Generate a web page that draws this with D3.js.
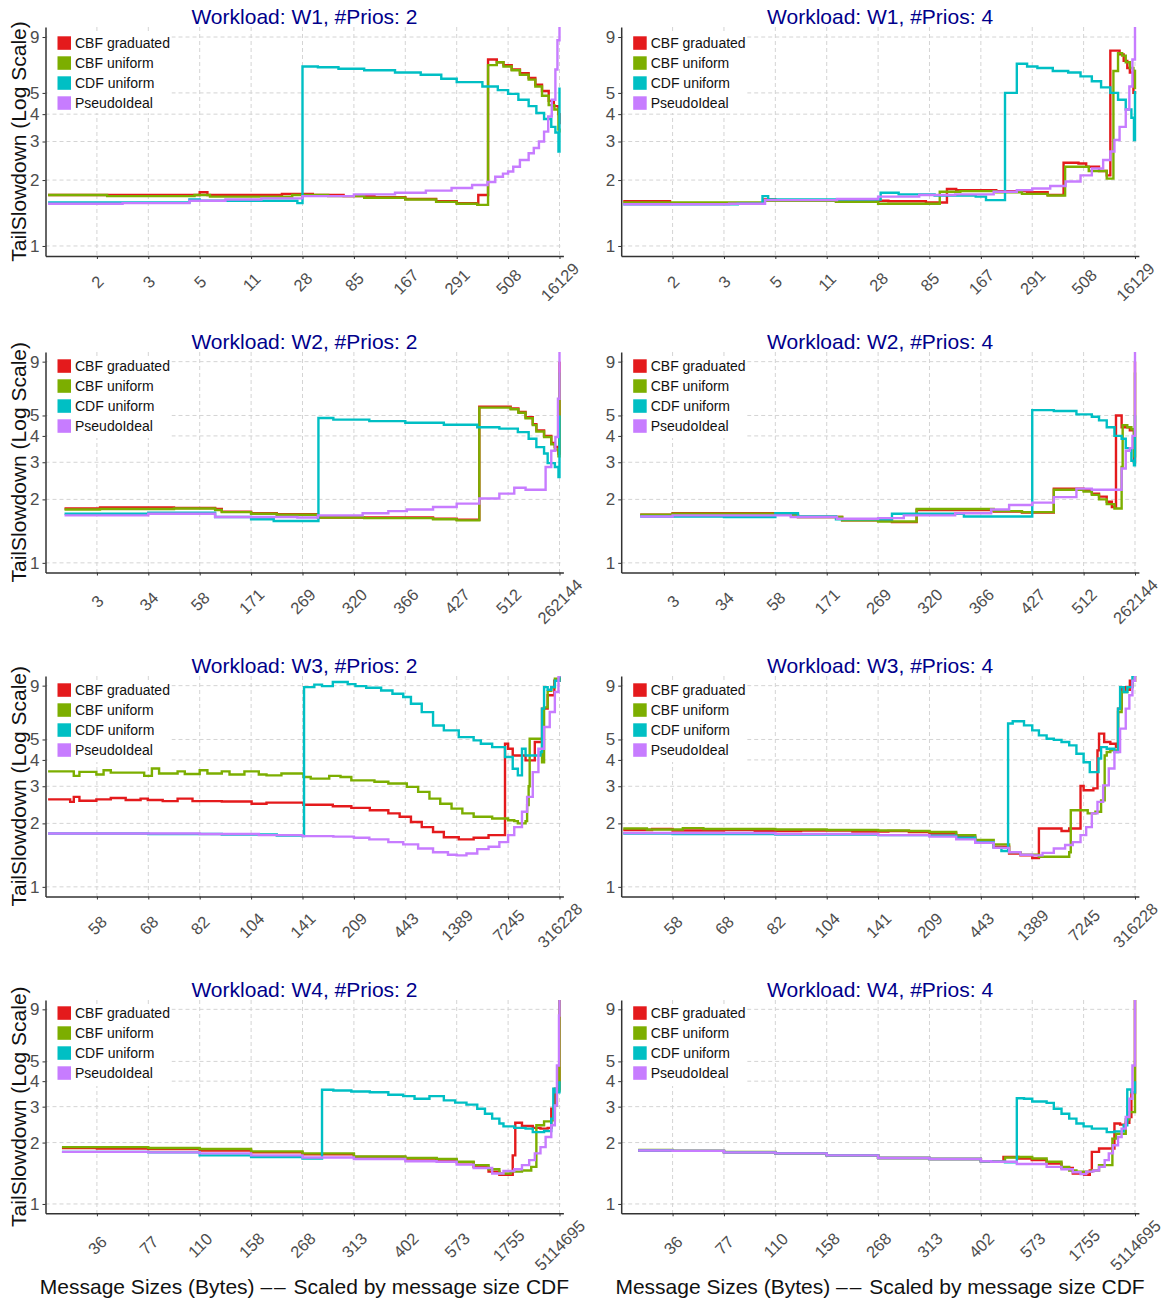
<!DOCTYPE html>
<html lang="en">
<head>
<meta charset="utf-8">
<title>TailSlowdown by message size</title>
<script src="https://d3js.org/d3.v7.min.js"></script>
<style>
  body { margin: 0; background: #fff; }
  svg { display: block; font-family: "Liberation Sans", Arial, sans-serif; }
</style>
</head>
<body>
<svg width="1170" height="1300"></svg>
<script>
// ---- data (x = message size CDF percentile, y = tail slowdown) ----
const seriesNames = ["CBF graduated", "CBF uniform", "CDF uniform", "PseudoIdeal"];
const seriesColors = ["#E41A1C", "#7CAE00", "#00BFC4", "#C77CFF"];

const cdfTicks = [0.1, 0.2, 0.3, 0.4, 0.5, 0.6, 0.7, 0.8, 0.9, 1.0];
const yTicks = [1, 2, 3, 4, 5, 9];

const sizesW1 = ["2", "3", "5", "11", "28", "85", "167", "291", "508", "16129"];
const sizesW2 = ["3", "34", "58", "171", "269", "320", "366", "427", "512", "262144"];
const sizesW3 = ["58", "68", "82", "104", "141", "209", "443", "1389", "7245", "316228"];
const sizesW4 = ["36", "77", "110", "158", "268", "313", "402", "573", "1755", "5114695"];

// W1, 2 prios
const w1p2Graduated = [[0.005,1.71],[0.30,1.76],[0.315,1.71],[0.46,1.73],[0.52,1.71],[0.58,1.69],[0.64,1.67],[0.70,1.64],[0.76,1.60],[0.80,1.57],[0.842,1.71],[0.861,7.1],[0.878,6.9],[0.891,6.7],[0.907,6.4],[0.923,6.15],[0.94,5.85],[0.953,5.45],[0.966,5.1],[0.979,4.6],[0.989,4.35],[0.998,4.0],[1.0,3.6]];
const w1p2Uniform = [[0.005,1.71],[0.12,1.69],[0.29,1.71],[0.32,1.68],[0.48,1.71],[0.55,1.69],[0.62,1.66],[0.70,1.63],[0.76,1.59],[0.80,1.56],[0.84,1.54],[0.861,6.7],[0.878,6.9],[0.891,6.6],[0.907,6.35],[0.923,6.05],[0.94,5.75],[0.953,5.35],[0.966,4.85],[0.979,4.4],[0.99,4.2],[0.998,3.4],[1.0,3.3]];
const w1p2Cdf = [[0.005,1.58],[0.28,1.63],[0.30,1.61],[0.49,1.57],[0.50,6.6],[0.53,6.55],[0.57,6.45],[0.62,6.35],[0.68,6.2],[0.73,6.05],[0.77,5.8],[0.80,5.6],[0.85,5.35],[0.88,5.15],[0.90,4.95],[0.92,4.65],[0.94,4.35],[0.955,4.05],[0.97,3.8],[0.984,3.5],[0.992,3.3],[0.998,2.7],[1.0,5.3]];
const w1p2Ideal = [[0.005,1.56],[0.15,1.57],[0.28,1.61],[0.35,1.63],[0.42,1.65],[0.50,1.69],[0.60,1.72],[0.68,1.75],[0.74,1.79],[0.79,1.84],[0.83,1.9],[0.86,1.96],[0.875,2.07],[0.89,2.14],[0.90,2.19],[0.91,2.3],[0.923,2.47],[0.94,2.65],[0.95,2.8],[0.96,3.0],[0.97,3.33],[0.978,3.9],[0.985,4.65],[0.992,6.4],[0.996,8.7],[1.0,11]];

// W1, 4 prios
const w1p4Graduated = [[0.004,1.60],[0.095,1.57],[0.278,1.63],[0.30,1.62],[0.418,1.60],[0.50,1.61],[0.52,1.60],[0.593,1.58],[0.634,1.82],[0.652,1.80],[0.73,1.78],[0.79,1.76],[0.83,1.71],[0.861,2.4],[0.89,2.38],[0.905,2.3],[0.93,2.2],[0.945,2.1],[0.952,7.8],[0.97,7.5],[0.978,7.0],[0.985,6.5],[0.99,6.2],[0.997,5.0],[1.0,5.1]];
const w1p4Uniform = [[0.004,1.58],[0.278,1.61],[0.418,1.59],[0.50,1.56],[0.62,1.77],[0.66,1.78],[0.73,1.76],[0.78,1.73],[0.83,1.70],[0.864,2.3],[0.91,2.2],[0.945,2.03],[0.958,6.3],[0.967,7.6],[0.975,7.4],[0.982,6.9],[0.99,6.5],[0.997,6.3],[1.0,5.2]];
const w1p4Cdf = [[0.004,1.55],[0.227,1.56],[0.275,1.69],[0.286,1.63],[0.50,1.63],[0.505,1.75],[0.54,1.72],[0.61,1.70],[0.69,1.68],[0.71,1.62],[0.747,5.0],[0.77,6.8],[0.79,6.6],[0.81,6.5],[0.84,6.3],[0.87,6.2],[0.894,5.95],[0.916,5.65],[0.934,5.3],[0.952,5.0],[0.967,4.65],[0.982,4.2],[0.993,3.85],[0.998,3.05],[1.0,5.1]];
const w1p4Ideal = [[0.004,1.55],[0.21,1.56],[0.28,1.62],[0.42,1.64],[0.50,1.68],[0.58,1.71],[0.65,1.72],[0.725,1.77],[0.77,1.80],[0.80,1.83],[0.835,1.88],[0.865,1.97],[0.894,2.1],[0.916,2.26],[0.938,2.47],[0.952,2.7],[0.96,3.05],[0.97,3.5],[0.982,4.2],[0.989,5.35],[0.995,7.1],[1.0,11]];

// W2, 2 prios
const w2p2Graduated = [[0.037,1.81],[0.106,1.83],[0.25,1.82],[0.33,1.80],[0.343,1.75],[0.40,1.72],[0.45,1.70],[0.53,1.64],[0.62,1.64],[0.754,1.62],[0.80,1.60],[0.844,5.5],[0.905,5.4],[0.92,5.2],[0.934,4.9],[0.948,4.55],[0.955,4.25],[0.97,4.0],[0.984,3.7],[0.991,3.55],[0.998,3.3],[1.0,9]];
const w2p2Uniform = [[0.037,1.79],[0.106,1.80],[0.25,1.81],[0.33,1.78],[0.343,1.74],[0.40,1.71],[0.45,1.69],[0.53,1.64],[0.62,1.63],[0.754,1.61],[0.80,1.59],[0.844,5.45],[0.905,5.35],[0.92,5.15],[0.934,4.85],[0.948,4.5],[0.955,4.2],[0.97,3.95],[0.984,3.65],[0.991,3.45],[0.998,3.2],[1.0,8]];
const w2p2Cdf = [[0.037,1.71],[0.20,1.73],[0.33,1.65],[0.40,1.61],[0.444,1.58],[0.531,4.86],[0.56,4.78],[0.63,4.7],[0.70,4.62],[0.775,4.52],[0.84,4.4],[0.883,4.33],[0.919,4.17],[0.94,3.88],[0.955,3.54],[0.97,3.3],[0.977,2.97],[0.991,2.85],[0.998,2.55],[1.0,5]];
const w2p2Ideal = [[0.037,1.68],[0.20,1.71],[0.33,1.65],[0.49,1.64],[0.53,1.68],[0.617,1.72],[0.667,1.76],[0.703,1.79],[0.754,1.84],[0.80,1.91],[0.844,2.02],[0.883,2.13],[0.912,2.27],[0.934,2.22],[0.973,2.85],[0.984,3.4],[0.992,3.95],[0.997,6],[1.0,11]];

// W2, 4 prios
const w2p4Graduated = [[0.037,1.69],[0.10,1.72],[0.33,1.69],[0.344,1.65],[0.43,1.59],[0.527,1.56],[0.575,1.78],[0.725,1.75],[0.78,1.73],[0.842,2.25],[0.886,2.25],[0.90,2.21],[0.916,2.13],[0.93,2.06],[0.945,1.95],[0.955,1.84],[0.963,5.0],[0.974,4.4],[0.99,4.25],[0.998,3.0],[1.0,9]];
const w2p4Uniform = [[0.037,1.69],[0.10,1.71],[0.33,1.68],[0.344,1.65],[0.43,1.59],[0.50,1.57],[0.575,1.80],[0.725,1.76],[0.78,1.74],[0.842,2.22],[0.886,2.22],[0.90,2.18],[0.916,2.1],[0.93,2.0],[0.945,1.9],[0.96,1.81],[0.974,2.85],[0.976,4.5],[0.985,4.4],[0.993,4.3],[0.998,3.2],[1.0,8]];
const w2p4Cdf = [[0.037,1.66],[0.20,1.65],[0.30,1.72],[0.344,1.66],[0.418,1.61],[0.527,1.71],[0.667,1.66],[0.80,5.3],[0.842,5.25],[0.886,5.06],[0.916,4.93],[0.93,4.74],[0.945,4.4],[0.96,4.0],[0.974,3.88],[0.982,3.5],[0.993,3.05],[0.998,2.9],[1.0,5]];
const w2p4Ideal = [[0.037,1.66],[0.10,1.68],[0.33,1.65],[0.42,1.62],[0.50,1.63],[0.55,1.68],[0.65,1.72],[0.72,1.79],[0.755,1.88],[0.80,1.93],[0.842,2.05],[0.886,2.25],[0.916,2.22],[0.974,2.8],[0.982,3.4],[0.99,3.5],[0.995,4.0],[1.0,11]];

// W3, 2 prios
const w3p2Graduated = [[0.005,2.6],[0.048,2.53],[0.055,2.67],[0.066,2.56],[0.099,2.6],[0.127,2.64],[0.156,2.58],[0.185,2.62],[0.199,2.58],[0.228,2.55],[0.257,2.62],[0.286,2.55],[0.343,2.54],[0.401,2.48],[0.43,2.51],[0.502,2.45],[0.559,2.41],[0.595,2.37],[0.631,2.31],[0.667,2.23],[0.689,2.15],[0.711,2.03],[0.732,1.92],[0.754,1.82],[0.775,1.72],[0.804,1.68],[0.833,1.71],[0.862,1.76],[0.894,4.77],[0.90,4.52],[0.909,4.2],[0.934,3.98],[0.952,4.86],[0.966,7.0],[0.977,8.1],[0.99,9.5],[1.0,11]];
const w3p2Uniform = [[0.005,3.53],[0.055,3.36],[0.066,3.51],[0.099,3.41],[0.113,3.57],[0.127,3.48],[0.192,3.36],[0.207,3.64],[0.221,3.45],[0.257,3.53],[0.271,3.43],[0.30,3.57],[0.315,3.45],[0.343,3.53],[0.358,3.41],[0.387,3.53],[0.415,3.41],[0.43,3.38],[0.459,3.45],[0.502,3.32],[0.516,3.26],[0.552,3.36],[0.574,3.32],[0.595,3.2],[0.64,3.15],[0.667,3.09],[0.703,2.98],[0.725,2.82],[0.747,2.62],[0.768,2.48],[0.79,2.35],[0.811,2.23],[0.833,2.15],[0.869,2.11],[0.90,2.07],[0.912,2.05],[0.919,2.0],[0.934,2.05],[0.937,2.44],[0.94,3.0],[0.942,5.04],[0.966,3.9],[0.97,7.1],[0.977,8.5],[0.984,8.85],[0.991,9.7],[1.0,11]];
const w3p2Cdf = [[0.005,1.79],[0.20,1.78],[0.343,1.77],[0.45,1.75],[0.50,1.74],[0.503,8.86],[0.523,9.1],[0.538,8.95],[0.559,9.36],[0.588,9.15],[0.603,8.95],[0.624,8.8],[0.653,8.54],[0.675,8.24],[0.696,7.95],[0.711,7.39],[0.732,6.74],[0.754,5.82],[0.775,5.52],[0.804,5.13],[0.833,4.95],[0.847,4.77],[0.869,4.6],[0.894,4.13],[0.909,3.63],[0.919,3.38],[0.927,4.52],[0.934,4.2],[0.963,4.36],[0.966,7.0],[0.97,8.86],[0.977,8.6],[0.984,8.86],[0.991,9.5],[1.0,11]];
const w3p2Ideal = [[0.005,1.79],[0.30,1.78],[0.415,1.76],[0.50,1.74],[0.56,1.73],[0.60,1.71],[0.63,1.68],[0.667,1.63],[0.696,1.59],[0.725,1.52],[0.754,1.46],[0.783,1.42],[0.80,1.41],[0.819,1.44],[0.84,1.51],[0.862,1.55],[0.883,1.63],[0.90,1.76],[0.912,1.92],[0.927,2.27],[0.937,2.67],[0.948,3.5],[0.959,4.52],[0.97,5.73],[0.981,6.75],[0.991,8.4],[0.998,10],[1.0,11]];

// W3, 4 prios
const w3p4Graduated = [[0.004,1.86],[0.06,1.88],[0.10,1.85],[0.20,1.86],[0.26,1.84],[0.35,1.85],[0.45,1.83],[0.52,1.84],[0.56,1.82],[0.60,1.79],[0.652,1.73],[0.689,1.63],[0.725,1.55],[0.755,1.44],[0.777,1.41],[0.80,1.37],[0.813,1.89],[0.857,1.84],[0.872,1.89],[0.894,3.01],[0.90,2.87],[0.919,2.93],[0.927,4.44],[0.93,5.33],[0.94,4.86],[0.952,4.77],[0.963,4.6],[0.967,7.0],[0.974,8.86],[0.982,8.6],[0.99,9.5],[1.0,11]];
const w3p4Uniform = [[0.004,1.89],[0.05,1.87],[0.12,1.90],[0.16,1.88],[0.30,1.87],[0.40,1.86],[0.50,1.85],[0.56,1.84],[0.60,1.82],[0.652,1.76],[0.689,1.67],[0.725,1.59],[0.755,1.46],[0.777,1.42],[0.813,1.39],[0.872,1.46],[0.875,2.31],[0.908,2.23],[0.923,2.27],[0.934,2.57],[0.941,4.2],[0.945,4.36],[0.952,4.44],[0.967,6.75],[0.974,8.4],[0.985,8.86],[0.995,9.5],[1.0,11]];
const w3p4Cdf = [[0.004,1.79],[0.10,1.78],[0.30,1.77],[0.50,1.76],[0.60,1.75],[0.652,1.71],[0.689,1.63],[0.725,1.53],[0.74,1.48],[0.753,5.95],[0.762,6.1],[0.784,5.83],[0.80,5.52],[0.813,5.23],[0.828,5.04],[0.842,4.98],[0.857,4.86],[0.872,4.69],[0.886,4.28],[0.90,3.9],[0.912,3.5],[0.929,4.06],[0.934,4.6],[0.945,4.52],[0.96,4.36],[0.967,7.0],[0.971,8.86],[0.978,8.4],[0.985,8.86],[0.995,10],[1.0,11]];
const w3p4Ideal = [[0.004,1.80],[0.30,1.78],[0.50,1.76],[0.60,1.73],[0.652,1.68],[0.689,1.62],[0.725,1.53],[0.755,1.46],[0.777,1.42],[0.80,1.41],[0.82,1.45],[0.842,1.52],[0.864,1.58],[0.879,1.63],[0.894,1.76],[0.905,1.92],[0.916,2.23],[0.927,2.53],[0.938,3.03],[0.949,3.64],[0.96,4.36],[0.971,5.63],[0.982,7.0],[0.989,8.1],[0.995,9.5],[1.0,11]];

// W4, 2 prios
const w4p2Graduated = [[0.032,1.88],[0.10,1.87],[0.20,1.86],[0.30,1.83],[0.40,1.79],[0.50,1.75],[0.60,1.70],[0.70,1.67],[0.761,1.64],[0.80,1.60],[0.833,1.52],[0.862,1.44],[0.883,1.39],[0.909,1.73],[0.914,2.5],[0.927,2.41],[0.948,2.36],[0.963,2.34],[0.977,2.36],[0.984,2.93],[0.991,3.67],[1.0,11]];
const w4p2Uniform = [[0.032,1.90],[0.20,1.88],[0.30,1.86],[0.40,1.81],[0.50,1.77],[0.60,1.71],[0.70,1.68],[0.761,1.66],[0.80,1.61],[0.833,1.55],[0.862,1.48],[0.883,1.41],[0.905,1.44],[0.927,1.46],[0.945,1.52],[0.955,2.43],[0.97,2.54],[0.984,2.57],[0.991,3.04],[0.995,3.6],[1.0,11]];
const w4p2Cdf = [[0.032,1.80],[0.20,1.79],[0.30,1.73],[0.40,1.70],[0.50,1.67],[0.538,3.63],[0.56,3.6],[0.595,3.56],[0.631,3.53],[0.667,3.43],[0.696,3.38],[0.718,3.28],[0.747,3.38],[0.775,3.22],[0.797,3.14],[0.819,3.07],[0.84,2.93],[0.855,2.77],[0.869,2.62],[0.883,2.48],[0.891,2.4],[0.912,2.36],[0.934,2.34],[0.948,2.25],[0.97,2.28],[0.984,2.62],[0.988,3.67],[0.991,3.53],[1.0,4]];
const w4p2Ideal = [[0.032,1.80],[0.20,1.79],[0.30,1.77],[0.40,1.73],[0.50,1.69],[0.60,1.66],[0.70,1.62],[0.761,1.61],[0.80,1.56],[0.833,1.50],[0.869,1.41],[0.891,1.45],[0.912,1.48],[0.927,1.55],[0.941,1.64],[0.952,1.77],[0.963,1.9],[0.973,2.13],[0.984,2.43],[0.991,3.04],[0.995,4.77],[0.999,8.4],[1.0,11]];

// W4, 4 prios
const w4p4Graduated = [[0.033,1.83],[0.10,1.82],[0.20,1.79],[0.30,1.77],[0.40,1.73],[0.50,1.68],[0.60,1.66],[0.70,1.62],[0.72,1.61],[0.744,1.70],[0.773,1.67],[0.799,1.64],[0.828,1.58],[0.857,1.50],[0.879,1.41],[0.901,1.39],[0.912,1.46],[0.916,1.80],[0.93,1.87],[0.96,2.48],[0.971,2.45],[0.982,2.5],[0.989,2.67],[0.993,3.5],[1.0,11]];
const w4p4Uniform = [[0.033,1.84],[0.10,1.82],[0.20,1.80],[0.30,1.77],[0.40,1.73],[0.50,1.68],[0.60,1.66],[0.70,1.62],[0.72,1.61],[0.747,1.69],[0.773,1.70],[0.80,1.67],[0.828,1.61],[0.857,1.52],[0.872,1.46],[0.886,1.44],[0.916,1.46],[0.93,1.55],[0.956,2.09],[0.963,2.21],[0.982,2.6],[0.989,2.82],[1.0,11]];
const w4p4Cdf = [[0.033,1.83],[0.10,1.82],[0.20,1.79],[0.30,1.77],[0.40,1.73],[0.50,1.68],[0.60,1.66],[0.70,1.62],[0.72,1.61],[0.747,1.60],[0.77,3.3],[0.784,3.28],[0.80,3.18],[0.828,3.13],[0.842,2.93],[0.857,2.77],[0.872,2.62],[0.886,2.48],[0.90,2.4],[0.916,2.34],[0.945,2.25],[0.96,2.27],[0.978,2.43],[0.985,3.64],[0.993,3.53],[1.0,4]];
const w4p4Ideal = [[0.033,1.83],[0.10,1.82],[0.20,1.79],[0.30,1.77],[0.40,1.73],[0.50,1.68],[0.60,1.66],[0.70,1.62],[0.72,1.61],[0.77,1.57],[0.828,1.52],[0.857,1.48],[0.879,1.43],[0.894,1.40],[0.905,1.44],[0.919,1.46],[0.93,1.52],[0.941,1.64],[0.949,1.77],[0.957,1.94],[0.967,2.13],[0.974,2.34],[0.982,2.67],[0.989,3.28],[0.995,4.77],[1.0,11]];

const panels = [
  {workload: "W1", prios: 2, sizes: sizesW1, lines: [w1p2Graduated, w1p2Uniform, w1p2Cdf, w1p2Ideal]},
  {workload: "W1", prios: 4, sizes: sizesW1, lines: [w1p4Graduated, w1p4Uniform, w1p4Cdf, w1p4Ideal]},
  {workload: "W2", prios: 2, sizes: sizesW2, lines: [w2p2Graduated, w2p2Uniform, w2p2Cdf, w2p2Ideal]},
  {workload: "W2", prios: 4, sizes: sizesW2, lines: [w2p4Graduated, w2p4Uniform, w2p4Cdf, w2p4Ideal]},
  {workload: "W3", prios: 2, sizes: sizesW3, lines: [w3p2Graduated, w3p2Uniform, w3p2Cdf, w3p2Ideal]},
  {workload: "W3", prios: 4, sizes: sizesW3, lines: [w3p4Graduated, w3p4Uniform, w3p4Cdf, w3p4Ideal]},
  {workload: "W4", prios: 2, sizes: sizesW4, lines: [w4p2Graduated, w4p2Uniform, w4p2Cdf, w4p2Ideal]},
  {workload: "W4", prios: 4, sizes: sizesW4, lines: [w4p4Graduated, w4p4Uniform, w4p4Cdf, w4p4Ideal]}
];

// ---- layout ----
const rows = [
  {top: 27, bottom: 256, lab: 26, leg: 16},
  {top: 352, bottom: 572.5, lab: 29, leg: 14},
  {top: 676, bottom: 896.5, lab: 29, leg: 14},
  {top: 1000, bottom: 1213.3, lab: 32, leg: 13}
];
const cols = [{left: 45.5, width: 517.9}, {left: 621.2, width: 517.7}];

const svg = d3.select("svg");
const defs = svg.append("defs");

panels.forEach((p, i) => {
  const row = rows[Math.floor(i / 2)];
  const col = cols[i % 2];
  const left = col.left, right = col.left + col.width;

  const x = d3.scaleLinear().domain([0, 1.0076]).range([left, right]);
  const y = d3.scaleLog().domain([0.9, 10]).range([row.bottom, row.top]);

  const g = svg.append("g");

  // grid
  g.append("g").selectAll("line").data(yTicks).join("line")
    .attr("x1", left).attr("x2", right)
    .attr("y1", d => y(d)).attr("y2", d => y(d))
    .attr("stroke", "#d4d4d4").attr("stroke-dasharray", "4,3");
  g.append("g").selectAll("line").data(cdfTicks).join("line")
    .attr("x1", d => x(d)).attr("x2", d => x(d))
    .attr("y1", row.top).attr("y2", row.bottom)
    .attr("stroke", "#d4d4d4").attr("stroke-dasharray", "4,3");

  // axes
  const xAxis = g.append("g")
    .attr("transform", `translate(0,${row.bottom})`)
    .call(d3.axisBottom(x).tickValues(cdfTicks).tickFormat((d, k) => p.sizes[k]).tickSize(3).tickSizeOuter(0));
  xAxis.selectAll("text")
    .attr("y", 0).attr("dy", "0.35em")
    .attr("text-anchor", "middle")
    .attr("transform", `translate(0,${row.lab}) rotate(-45)`)
    .attr("font-size", 16.5).attr("fill", "#4d4d4d")
    .attr("font-family", "'Liberation Sans', Arial, sans-serif");

  const yAxis = g.append("g")
    .attr("transform", `translate(${left},0)`)
    .call(d3.axisLeft(y).tickValues(yTicks).tickFormat(d3.format("d")).tickSize(3).tickSizeOuter(0));
  yAxis.selectAll("text")
    .attr("font-size", 17).attr("fill", "#4d4d4d")
    .attr("font-family", "'Liberation Sans', Arial, sans-serif");

  [xAxis, yAxis].forEach(a => {
    a.select(".domain").attr("stroke", "#333").attr("stroke-width", 1.5);
    a.selectAll(".tick line").attr("stroke", "#333");
  });

  // lines
  defs.append("clipPath").attr("id", "clip" + i)
    .append("rect").attr("x", left).attr("y", row.top)
    .attr("width", col.width).attr("height", row.bottom - row.top);

  const line = d3.line()
    .x(d => x(d[0]))
    .y(d => y(d[1]))
    .curve(d3.curveStepAfter);

  g.append("g").attr("clip-path", `url(#clip${i})`)
    .selectAll("path").data(p.lines).join("path")
    .attr("d", line)
    .attr("fill", "none")
    .attr("stroke", (d, k) => seriesColors[k])
    .attr("stroke-width", 2.4);

  // legend
  const leg = g.append("g");
  leg.append("rect")
    .attr("x", left + 2).attr("y", row.top + 4)
    .attr("width", 124).attr("height", 82)
    .attr("fill", "#fff");
  seriesNames.forEach((name, k) => {
    const cy = row.top + row.leg + k * 20;
    leg.append("rect")
      .attr("x", left + 12).attr("y", cy - 6.7)
      .attr("width", 13.5).attr("height", 13.5)
      .attr("fill", seriesColors[k]);
    leg.append("text")
      .attr("x", left + 29.5).attr("y", cy)
      .attr("dy", "0.35em")
      .attr("font-size", 14).attr("fill", "#111")
      .text(name);
  });

  // title
  g.append("text")
    .attr("x", (left + right) / 2).attr("y", row.top - 3)
    .attr("text-anchor", "middle")
    .attr("font-size", 21).attr("fill", "#00008B")
    .text(`Workload: ${p.workload}, #Prios: ${p.prios}`);

  if (i % 2 === 0) {
    g.append("text")
      .attr("transform", `translate(19,${(row.top + row.bottom) / 2}) rotate(-90)`)
      .attr("text-anchor", "middle").attr("dy", "0.35em")
      .attr("font-size", 21).attr("fill", "#111")
      .text("TailSlowdown (Log Scale)");
  }

  if (i >= 6) {
    const xt = g.append("text")
      .attr("x", (left + right) / 2).attr("y", 1294)
      .attr("text-anchor", "middle")
      .attr("font-size", 21).attr("fill", "#111")
      .attr("xml:space", "preserve");
    xt.append("tspan").text("Message Sizes (Bytes) ");
    xt.append("tspan").attr("letter-spacing", 2).text("––");
    xt.append("tspan").text(" Scaled by message size CDF");
  }
});
</script>
</body>
</html>
